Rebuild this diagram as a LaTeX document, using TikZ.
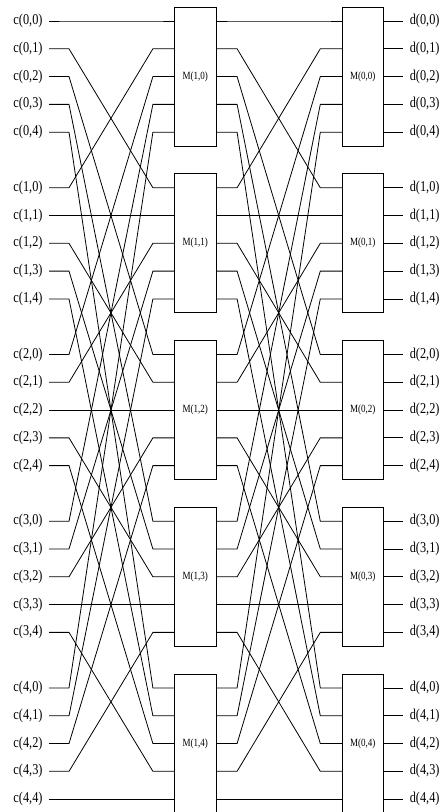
\documentclass[tikz,border=0pt]{standalone}
\usepackage{fontspec}
\setmainfont[FakeStretch=0.82]{Liberation Serif}
\usetikzlibrary{positioning}

\begin{document}
\begin{tikzpicture}[
  x=1pt, y=-1pt,
  lbl/.style={inner xsep=6.3pt, inner ysep=0pt, font=\fontsize{15}{15}\selectfont},
  mbox/.style={draw, line width=0.8pt, minimum width=42pt, minimum height=139pt, inner sep=0pt, font=\fontsize{11}{11}\selectfont},
  wire/.style={line width=0.8pt},
]
\useasboundingbox (0,0) rectangle (447,812);

% Input and output labels
\foreach \i in {0,...,4}{
  \foreach \j in {0,...,4}{
    \pgfmathsetmacro\ry{21+27.79*(6*\i+\j)}
    \node[lbl, anchor=east] (c-\i-\j) at (49,\ry) {c(\i,\j)};
    \node[lbl, anchor=west] (d-\i-\j) at (403.3,\ry) {d(\i,\j)};
  }
}

% Switch boxes
\foreach \j in {0,...,4}{
  \pgfmathsetmacro\ry{21+27.79*(6*\j+2)}
  \node[mbox] (M1-\j) at (195.3,\ry) {M(1,\j)};
  \node[mbox, minimum width=41pt] (M0-\j) at (362.8,\ry) {M(0,\j)};
}

% Wiring
\foreach \i in {0,...,4}{
  \foreach \j in {0,...,4}{
    \draw[wire] (c-\i-\j.east) -- ++(20,0) -- ([xshift=-21pt]M1-\j.west |- c-\j-\i) -- (M1-\j.west |- c-\j-\i);
    \draw[wire] (M1-\j.east |- c-\j-\i) -- ++(20.4,0) -- ([xshift=-21.6pt]M0-\i.west |- c-\i-\j) -- (M0-\i.west |- c-\i-\j);
    \draw[wire] (M0-\i.east |- d-\i-\j) -- (d-\i-\j.west);
  }
}

\end{tikzpicture}
\end{document}
